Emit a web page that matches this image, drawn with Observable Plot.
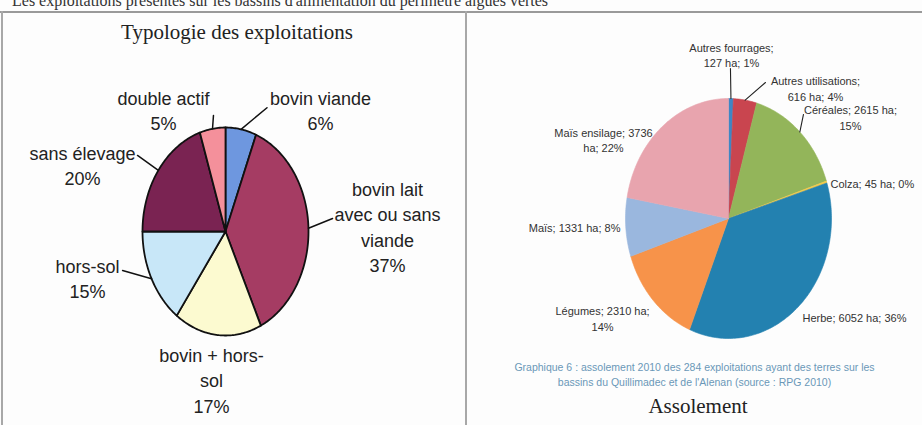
<!DOCTYPE html>
<html>
<head>
<meta charset="utf-8">
<script src="https://cdn.jsdelivr.net/npm/d3@7"></script>
<script src="https://cdn.jsdelivr.net/npm/@observablehq/plot@0.6"></script>
<style>
  html, body { margin: 0; padding: 0; background: #fff; }
  #page { position: relative; width: 922px; height: 425px; overflow: hidden; background: #fdfdfd; }
  .abs { position: absolute; }
  #toptext { left: 12px; top: -7px; font: 16px "Liberation Serif", serif; color: #333; white-space: nowrap; line-height: 16px; }
  .hline { left: 0; top: 11px; width: 922px; height: 2px; background: #9a9a9a; }
  .vline { top: 11px; width: 2px; height: 414px; background: #a8a8a8; }
  .title { font: 21px "Liberation Serif", serif; color: #222; text-align: center; white-space: nowrap; }
  #caption { left: 467px; width: 455px; top: 360px; font: 10.5px "Liberation Sans", sans-serif; color: #6a98b8; text-align: center; line-height: 15px; }
</style>
</head>
<body>
<div id="page">
  <div id="toptext" class="abs">Les exploitations présentes sur les bassins d'alimentation du périmètre algues vertes</div>
  <div class="abs hline"></div>
  <div class="abs vline" style="left:1px"></div>
  <div class="abs vline" style="left:465px"></div>
  <div id="left" class="abs" style="left:2px; top:14px"></div>
  <div id="right" class="abs" style="left:467px; top:14px"></div>
  <div class="abs title" style="left:2px; width:470px; top:20px">Typologie des exploitations</div>
  <div id="caption" class="abs">Graphique 6 : assolement 2010 des 284 exploitations ayant des terres sur les<br>bassins du Quillimadec et de l'Alenan (source : RPG 2010)</div>
  <div class="abs title" style="left:467px; width:462px; top:394px">Assolement</div>
</div>
<script>
// ---------- DATA ----------
const typoCategories = ["bovin viande", "bovin lait avec ou sans viande", "bovin + hors-sol", "hors-sol", "sans élevage", "double actif"];
const typoDisplay = ["bovin viande", "bovin lait\navec ou sans\nviande", "bovin + hors-\nsol", "hors-sol", "sans élevage", "double actif"];
const typoPercent = [6, 37, 17, 15, 20, 5];
const typoColors = ["#6e97df", "#a53c63", "#fcfad0", "#c8e7f8", "#7a2352", "#f4909b"];

const assolCategories = ["Autres fourrages", "Autres utilisations", "Céréales", "Colza", "Herbe", "Légumes", "Maïs", "Maïs ensilage"];
const assolHectares = [127, 616, 2615, 45, 6052, 2310, 1331, 3736];
const assolPercent = [1, 4, 15, 0, 36, 14, 8, 22];
const assolColors = ["#3f86c4", "#c9454f", "#93b55a", "#f2c94c", "#2381b0", "#f7934a", "#9ab7de", "#e8a4ae"];

// ---------- LAYOUT (label placement, in pie-radius units) ----------
const typoLayout = [
  {lx: 1.145, ly: 1.175, ex: 0.50, ey: 1.19},
  {lx: 1.952, ly: 0.055, ex: 1.29, ey: 0.125},
  {lx: -0.169, ly: -1.42, ex: null},
  {lx: -1.663, ly: -0.44, ex: -1.24, ey: -0.375},
  {lx: -1.723, ly: 0.645, ex: -1.06, ey: 0.731},
  {lx: -0.747, ly: 1.175, ex: -0.145, ey: 1.115}
];
const assolLayout = [
  {lx: 0.029, ly: 1.367, ex: 0.019, ey: 1.25, anchor: "middle", brk: 2},
  {lx: 0.845, ly: 1.088, ex: 0.359, ey: 1.133, anchor: "middle", brk: 2},
  {lx: 1.184, ly: 0.846, ex: 0.728, ey: 0.867, anchor: "middle", brk: 3},
  {lx: 0.99, ly: 0.292, ex: null, anchor: "start", brk: 0},
  {lx: 0.718, ly: -0.825, ex: null, anchor: "start", brk: 0},
  {lx: -1.223, ly: -0.829, ex: null, anchor: "middle", brk: 3},
  {lx: -1.049, ly: -0.075, ex: null, anchor: "end", brk: 0},
  {lx: -1.214, ly: 0.658, ex: null, anchor: "middle", brk: 3}
];

// ---------- helpers ----------
function slices(cats, values, colors) {
  const total = d3.sum(values);
  let acc = 0;
  const pts = [], mids = [];
  cats.forEach((c, i) => {
    const a0 = acc / total * 2 * Math.PI;
    acc += values[i];
    const a1 = acc / total * 2 * Math.PI;
    pts.push({key: c, x: 0, y: 0, color: colors[i]});
    const n = Math.max(2, Math.ceil((a1 - a0) / (Math.PI / 180)));
    for (let k = 0; k <= n; k++) {
      const a = a0 + (a1 - a0) * k / n;
      pts.push({key: c, x: Math.sin(a), y: Math.cos(a), color: colors[i]});
    }
    pts.push({key: c, x: 0, y: 0, color: colors[i]});
    mids.push((a0 + a1) / 2);
  });
  return {pts, mids};
}
function leaders(cats, mids, layout) {
  const out = [];
  cats.forEach((c, i) => {
    const L = layout[i];
    if (L.ex == null) return;
    out.push({key: c, x: Math.sin(mids[i]), y: Math.cos(mids[i])});
    out.push({key: c, x: L.ex, y: L.ey});
  });
  return out;
}

// ---------- left pie ----------
{
  const {pts, mids} = slices(typoCategories, typoPercent, typoColors);
  const labels = typoCategories.map((c, i) => ({
    x: typoLayout[i].lx, y: typoLayout[i].ly,
    text: typoDisplay[i] + "\n" + typoPercent[i] + "%"
  }));
  const W = 464, H = 410, cx = 223, cy = 217, rx = 83, ry = 104;
  const chart = Plot.plot({
    width: W, height: H, margin: 0,
    x: {domain: [-cx / rx, (W - cx) / rx], axis: null},
    y: {domain: [-(H - cy) / ry, cy / ry], axis: null},
    color: {type: "identity"},
    style: {background: "transparent", overflow: "visible"},
    marks: [
      Plot.line(pts, {x: "x", y: "y", z: "key", fill: "color", stroke: "#111", strokeWidth: 1.8, strokeLinejoin: "round"}),
      Plot.line(leaders(typoCategories, mids, typoLayout), {x: "x", y: "y", z: "key", stroke: "#111", strokeWidth: 1.5}),
      Plot.text(labels, {x: "x", y: "y", text: "text", textAnchor: "middle", lineHeight: 1.41,
        fontSize: 18, fontFamily: "Liberation Sans, Arial, sans-serif", fill: "#222"})
    ]
  });
  document.getElementById("left").appendChild(chart);
}

// ---------- right pie ----------
{
  const {pts, mids} = slices(assolCategories, assolHectares, assolColors);
  const labels = assolCategories.map((c, i) => {
    const words = `${c}; ${assolHectares[i]} ha; ${assolPercent[i]}%`.split(" ");
    const b = assolLayout[i].brk;
    const text = b ? words.slice(0, b).join(" ") + "\n" + words.slice(b).join(" ") : words.join(" ");
    return {x: assolLayout[i].lx, y: assolLayout[i].ly, text, anchor: assolLayout[i].anchor};
  });
  const W = 455, H = 411, cx = 261, cy = 204, rx = 103, ry = 120;
  const common = {x: "x", y: "y", text: "text", lineHeight: 1.4, fontSize: 11,
    fontFamily: "Liberation Sans, Arial, sans-serif", fill: "#333"};
  const chart = Plot.plot({
    width: W, height: H, margin: 0,
    x: {domain: [-cx / rx, (W - cx) / rx], axis: null},
    y: {domain: [-(H - cy) / ry, cy / ry], axis: null},
    color: {type: "identity"},
    style: {background: "transparent", overflow: "visible"},
    marks: [
      Plot.line(pts, {x: "x", y: "y", z: "key", fill: "color", stroke: "color", strokeWidth: 0.6}),
      Plot.line(leaders(assolCategories, mids, assolLayout), {x: "x", y: "y", z: "key", stroke: "#222", strokeWidth: 1.1}),
      Plot.text(labels.filter(d => d.anchor === "middle"), {...common, textAnchor: "middle"}),
      Plot.text(labels.filter(d => d.anchor === "start"), {...common, textAnchor: "start"}),
      Plot.text(labels.filter(d => d.anchor === "end"), {...common, textAnchor: "end"})
    ]
  });
  document.getElementById("right").appendChild(chart);
}
</script>
</body>
</html>
